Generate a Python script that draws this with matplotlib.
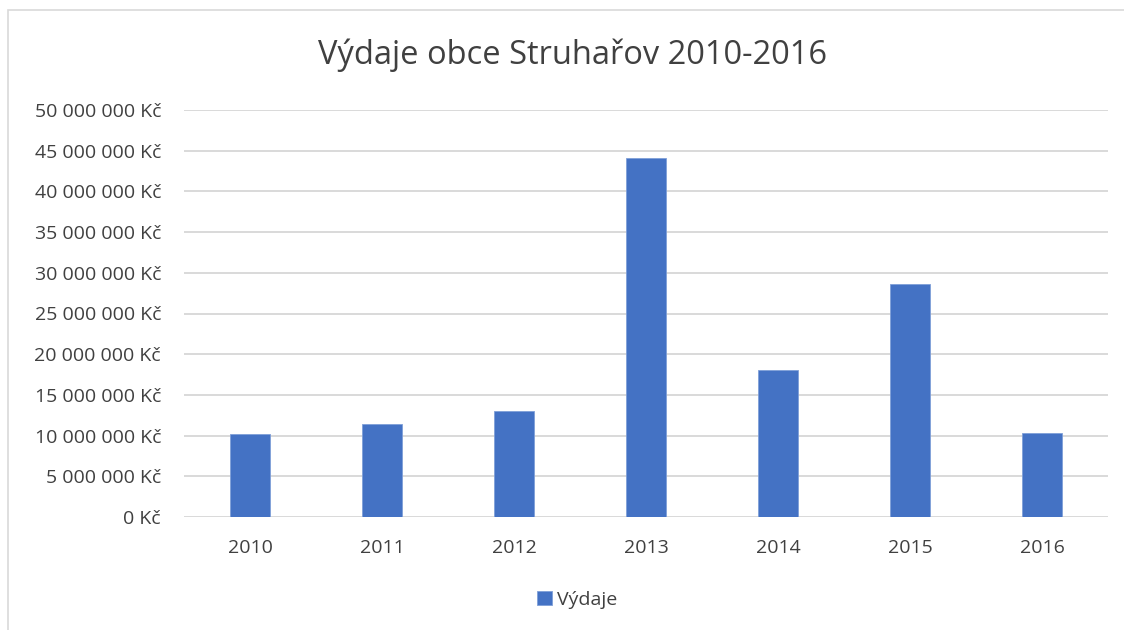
# Výdaje obce Struhařov 2010-2016 - sloupcový graf
import numpy as np
import matplotlib
matplotlib.use('Agg')
import matplotlib.pyplot as plt
from matplotlib.ticker import FuncFormatter, MultipleLocator
from matplotlib.patches import Rectangle

# data
roky = ['2010', '2011', '2012', '2013', '2014', '2015', '2016']
vydaje = [10160000, 11390000, 13070000, 44070000, 18060000, 28660000, 10280000]

plt.rcParams['font.family'] = ['Open Sans', 'DejaVu Sans']
barva_textu = '#404040'

fig = plt.figure(figsize=(11.24, 6.3), dpi=100, facecolor='white')
# okraj grafu
fig.patches.append(Rectangle((8/1124, -0.01), 1.2, 1 - 10/630 + 0.01, transform=fig.transFigure,
                             fill=False, edgecolor='#d9d9d9', linewidth=1.2))

ax = fig.add_axes([184/1124, 1 - 517/630, 924/1124, 407/630])
x = np.arange(len(roky))
ax.bar(x, vydaje, width=0.31, color='#4472C4', edgecolor='#7f9fd8', linewidth=0.6,
       label='Výdaje', zorder=3)

ax.set_xlim(-0.5, len(roky) - 0.5)
ax.set_ylim(0, 50000000)
ax.yaxis.set_major_locator(MultipleLocator(5000000))
ax.yaxis.set_major_formatter(FuncFormatter(lambda v, p: '{:,.0f} Kč'.format(v).replace(',', ' ')))
ax.set_xticks(x)
ax.set_xticklabels(roky)
ax.grid(axis='y', color='#d9d9d9', linewidth=1.4, zorder=0)
for s in ax.spines.values():
    s.set_visible(False)
ax.tick_params(axis='both', length=0, labelsize=14, colors=barva_textu)
ax.tick_params(axis='y', pad=16.5)
ax.tick_params(axis='x', pad=16)

fig.text(573/1124, 1 - 55/630, 'Výdaje obce Struhařov 2010-2016', ha='center', va='center',
         fontsize=23.5, color=barva_textu)

fig.legend(loc='center', bbox_to_anchor=(577/1124, 1 - 600/630), frameon=False,
           fontsize=14, labelcolor=barva_textu, handlelength=0.75, handleheight=0.75,
           handletextpad=0.25)

fig.savefig('out.png', dpi=100, facecolor='white')
